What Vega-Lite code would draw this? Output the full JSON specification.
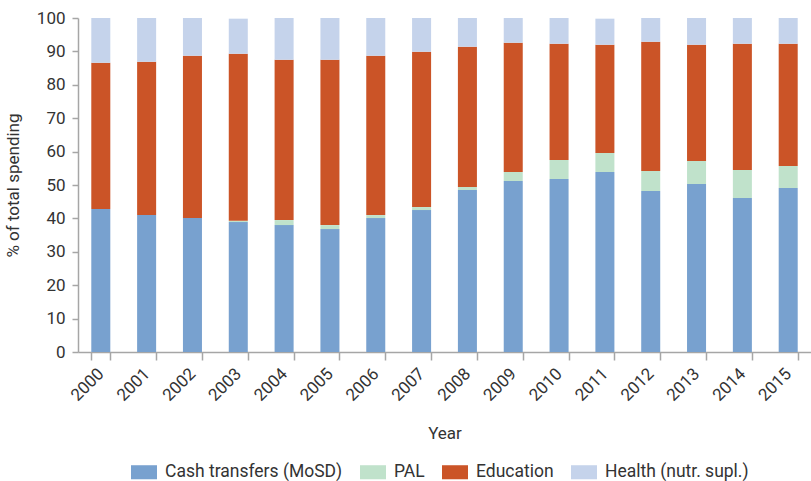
{
  "$schema": "https://vega.github.io/schema/vega-lite/v6.json",
  "width": 733,
  "height": 334,
  "autosize": {"type": "none"},
  "padding": {"left": 78, "top": 18, "right": 0, "bottom": 129},
  "background": "white",
  "config": {
    "view": {"stroke": null},
    "font": "Roboto",
    "axis": {"labelFont": "Roboto", "titleFont": "Roboto", "labelFontSize": 17, "titleFontSize": 17, "labelColor": "#333333", "titleColor": "#333333", "titleFontWeight": "normal", "domainColor": "#a6a6a6", "tickColor": "#a6a6a6", "domainWidth": 1.5, "tickWidth": 1.5},
    "legend": {"labelFont": "Roboto", "labelFontSize": 17.5, "labelColor": "#333333"}
  },
  "data": {
    "values": [
      {"year": "2000", "cat": "Cash transfers (MoSD)", "o": 1, "v": 42.8},
      {"year": "2000", "cat": "PAL", "o": 2, "v": 0},
      {"year": "2000", "cat": "Education", "o": 3, "v": 43.8},
      {"year": "2000", "cat": "Health (nutr. supl.)", "o": 4, "v": 13.4},
      {"year": "2001", "cat": "Cash transfers (MoSD)", "o": 1, "v": 41.0},
      {"year": "2001", "cat": "PAL", "o": 2, "v": 0},
      {"year": "2001", "cat": "Education", "o": 3, "v": 45.9},
      {"year": "2001", "cat": "Health (nutr. supl.)", "o": 4, "v": 13.1},
      {"year": "2002", "cat": "Cash transfers (MoSD)", "o": 1, "v": 40.1},
      {"year": "2002", "cat": "PAL", "o": 2, "v": 0},
      {"year": "2002", "cat": "Education", "o": 3, "v": 48.6},
      {"year": "2002", "cat": "Health (nutr. supl.)", "o": 4, "v": 11.3},
      {"year": "2003", "cat": "Cash transfers (MoSD)", "o": 1, "v": 38.9},
      {"year": "2003", "cat": "PAL", "o": 2, "v": 0.4},
      {"year": "2003", "cat": "Education", "o": 3, "v": 50.0},
      {"year": "2003", "cat": "Health (nutr. supl.)", "o": 4, "v": 10.5},
      {"year": "2004", "cat": "Cash transfers (MoSD)", "o": 1, "v": 38.0},
      {"year": "2004", "cat": "PAL", "o": 2, "v": 1.5},
      {"year": "2004", "cat": "Education", "o": 3, "v": 48.0},
      {"year": "2004", "cat": "Health (nutr. supl.)", "o": 4, "v": 12.5},
      {"year": "2005", "cat": "Cash transfers (MoSD)", "o": 1, "v": 36.8},
      {"year": "2005", "cat": "PAL", "o": 2, "v": 1.2},
      {"year": "2005", "cat": "Education", "o": 3, "v": 49.5},
      {"year": "2005", "cat": "Health (nutr. supl.)", "o": 4, "v": 12.5},
      {"year": "2006", "cat": "Cash transfers (MoSD)", "o": 1, "v": 40.1},
      {"year": "2006", "cat": "PAL", "o": 2, "v": 0.9},
      {"year": "2006", "cat": "Education", "o": 3, "v": 47.7},
      {"year": "2006", "cat": "Health (nutr. supl.)", "o": 4, "v": 11.3},
      {"year": "2007", "cat": "Cash transfers (MoSD)", "o": 1, "v": 42.5},
      {"year": "2007", "cat": "PAL", "o": 2, "v": 0.9},
      {"year": "2007", "cat": "Education", "o": 3, "v": 46.5},
      {"year": "2007", "cat": "Health (nutr. supl.)", "o": 4, "v": 10.1},
      {"year": "2008", "cat": "Cash transfers (MoSD)", "o": 1, "v": 48.5},
      {"year": "2008", "cat": "PAL", "o": 2, "v": 0.9},
      {"year": "2008", "cat": "Education", "o": 3, "v": 42.0},
      {"year": "2008", "cat": "Health (nutr. supl.)", "o": 4, "v": 8.6},
      {"year": "2009", "cat": "Cash transfers (MoSD)", "o": 1, "v": 51.2},
      {"year": "2009", "cat": "PAL", "o": 2, "v": 2.7},
      {"year": "2009", "cat": "Education", "o": 3, "v": 38.7},
      {"year": "2009", "cat": "Health (nutr. supl.)", "o": 4, "v": 7.4},
      {"year": "2010", "cat": "Cash transfers (MoSD)", "o": 1, "v": 51.8},
      {"year": "2010", "cat": "PAL", "o": 2, "v": 5.7},
      {"year": "2010", "cat": "Education", "o": 3, "v": 34.8},
      {"year": "2010", "cat": "Health (nutr. supl.)", "o": 4, "v": 7.7},
      {"year": "2011", "cat": "Cash transfers (MoSD)", "o": 1, "v": 53.9},
      {"year": "2011", "cat": "PAL", "o": 2, "v": 5.7},
      {"year": "2011", "cat": "Education", "o": 3, "v": 32.4},
      {"year": "2011", "cat": "Health (nutr. supl.)", "o": 4, "v": 7.8},
      {"year": "2012", "cat": "Cash transfers (MoSD)", "o": 1, "v": 48.2},
      {"year": "2012", "cat": "PAL", "o": 2, "v": 6.0},
      {"year": "2012", "cat": "Education", "o": 3, "v": 38.7},
      {"year": "2012", "cat": "Health (nutr. supl.)", "o": 4, "v": 7.1},
      {"year": "2013", "cat": "Cash transfers (MoSD)", "o": 1, "v": 50.3},
      {"year": "2013", "cat": "PAL", "o": 2, "v": 6.9},
      {"year": "2013", "cat": "Education", "o": 3, "v": 34.8},
      {"year": "2013", "cat": "Health (nutr. supl.)", "o": 4, "v": 8.0},
      {"year": "2014", "cat": "Cash transfers (MoSD)", "o": 1, "v": 46.1},
      {"year": "2014", "cat": "PAL", "o": 2, "v": 8.4},
      {"year": "2014", "cat": "Education", "o": 3, "v": 37.8},
      {"year": "2014", "cat": "Health (nutr. supl.)", "o": 4, "v": 7.7},
      {"year": "2015", "cat": "Cash transfers (MoSD)", "o": 1, "v": 49.1},
      {"year": "2015", "cat": "PAL", "o": 2, "v": 6.6},
      {"year": "2015", "cat": "Education", "o": 3, "v": 36.6},
      {"year": "2015", "cat": "Health (nutr. supl.)", "o": 4, "v": 7.7}
    ]
  },
  "mark": {"type": "bar", "stroke": null},
  "encoding": {
    "x": {
      "field": "year", "type": "ordinal", "title": "Year",
      "scale": {"paddingInner": 0.585, "paddingOuter": 0.29},
      "axis": {"labelAngle": -45, "labelAlign": "right", "labelBaseline": "middle", "tickBand": "extent", "tickSize": 8, "labelPadding": 11, "labelDx": 8, "titlePadding": 22}
    },
    "y": {
      "field": "v", "type": "quantitative", "stack": "zero", "title": "% of total spending",
      "scale": {"domain": [0, 100], "nice": false},
      "axis": {"values": [0, 10, 20, 30, 40, 50, 60, 70, 80, 90, 100], "grid": false, "tickSize": 6, "labelPadding": 7, "titlePadding": 14}
    },
    "color": {
      "field": "cat", "type": "nominal",
      "scale": {"domain": ["Cash transfers (MoSD)", "PAL", "Education", "Health (nutr. supl.)"], "range": ["#78a1cf", "#c0e2cb", "#cb5427", "#c5d3eb"]},
      "legend": {"title": null, "orient": "none", "legendX": 53, "legendY": 441, "direction": "horizontal", "symbolType": "M-1,-0.54H1V0.54H-1Z", "symbolSize": 676, "symbolStrokeWidth": 0, "symbolOpacity": 1, "columnPadding": 17, "labelOffset": 8, "labelLimit": 0}
    },
    "order": {"field": "o", "type": "quantitative"}
  }
}
